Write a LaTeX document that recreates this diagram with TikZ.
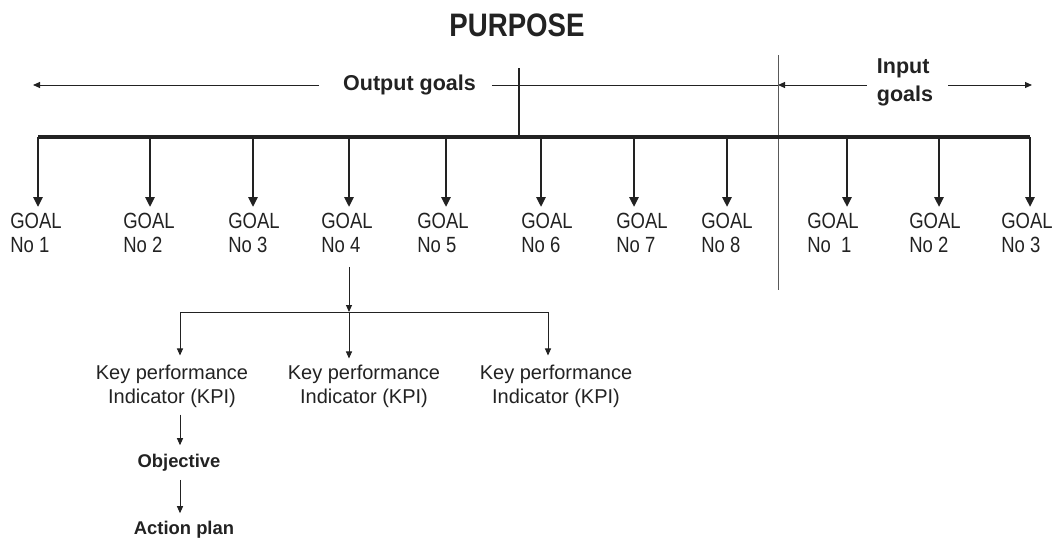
\documentclass[tikz,border=0pt]{standalone}
\usepackage{fontspec}
\setmainfont{Liberation Sans}
\newfontfamily\tallsans[FakeStretch=0.84]{Liberation Sans}
\newfontfamily\purfont[FakeStretch=0.85]{Liberation Sans}
\usetikzlibrary{arrows.meta,calc}
\definecolor{ink}{HTML}{222222}
\begin{document}
\begin{tikzpicture}[x=1pt,y=-1pt,
  goal/.style={inner sep=0pt, align=left, text=ink, font=\tallsans\fontsize{22}{24}\selectfont},
  kpi/.style={inner sep=0pt, align=center, text=ink, font=\fontsize{20}{24}\selectfont},
  boldtxt/.style={inner sep=0pt, text=ink, font=\fontsize{18.4}{22}\selectfont\bfseries},
  headtxt/.style={inner sep=0pt, align=left, text=ink, font=\fontsize{21.5}{28}\selectfont\bfseries},
  bus/.style={draw=ink, line width=3.5pt},
  drop/.style={draw=ink, line width=2.5pt, -{Triangle[length=10pt,width=9pt]}, shorten >=6pt},
  tick/.style={draw=ink, line width=2.5pt},
  thinline/.style={draw=ink, line width=1pt},
  thinarrow/.style={draw=ink, line width=1pt, -{Triangle[length=7pt,width=6pt]}},
  sepline/.style={draw=ink!75, line width=1pt}]
\useasboundingbox (0,0) rectangle (1054,538);

% title
\node[inner sep=0pt, text=ink, font=\purfont\fontsize{32.5}{33}\selectfont\bfseries] (pur) at (517,25.5) {PURPOSE};

% top labels and arrows
\node[headtxt] (out) at (409.5,85) {Output goals};
\node[headtxt] (inp) at (905,82.5) {Input\\goals};
\coordinate (lend) at (33,85);
\coordinate (sepm) at (778,85);
\coordinate (rend) at (1032,85);
\draw[thinarrow, shorten <=24pt] (out.west) -- (lend);
\draw[thinline, shorten <=16pt] (out.east) -- (sepm);
\draw[thinarrow, shorten <=10pt] (inp.west |- sepm) -- (sepm);
\draw[thinarrow, shorten <=15pt] (inp.east |- sepm) -- (rend);

% separator
\coordinate (st) at (778,55);
\coordinate (sb) at (778,290);
\draw[sepline] (st) -- (sb);

% goals
\foreach \n/\d/\c/\t in {1/38/36/No 1, 2/150/149/No 2, 3/253/254/No 3, 4/349/347/No 4,
  5/446/443/No 5, 6/541/547/No 6, 7/634/642/No 7, 8/727/727/No 8,
  9/847/833/No~~1, 10/939/935/No 2, 11/1030/1027/No 3} {
  \coordinate (b\n) at (\d,137);
  \node[goal] (g\n) at (\c,233) {GOAL\\\t};
}
\draw[bus] (b1) -- (b11);
\foreach \n in {1,...,11} {
  \draw[drop] (b\n) -- (b\n |- g\n.north);
}

% purpose tick
\coordinate (tt) at (519,68);
\draw[tick] (tt) -- (tt |- b1);

% KPIs
\node[kpi] (k1) at (172,386) {Key performance\\Indicator (KPI)};
\node[kpi] (k2) at (364,386) {Key performance\\Indicator (KPI)};
\node[kpi] (k3) at (556,386) {Key performance\\Indicator (KPI)};
\coordinate (br) at (349,312);
\coordinate (brl) at (180,312);
\coordinate (brr) at (548,312);
\draw[thinarrow, shorten <=14pt] (br |- g4.south) -- (br);
\draw[thinline] (brl) -- (brr);
\draw[thinarrow, shorten >=9pt] (brl) -- (brl |- k1.north);
\draw[thinarrow, shorten >=6pt] (br) -- (br |- k2.north);
\draw[thinarrow, shorten >=9pt] (brr) -- (brr |- k3.north);

% objective and action plan
\node[boldtxt] (obj) at (179,463) {Objective};
\node[boldtxt] (act) at (184,530) {Action plan};
\draw[thinarrow, shorten <=7pt, shorten >=9pt] (brl |- k1.south) -- (brl |- obj.north);
\draw[thinarrow, shorten <=8pt, shorten >=8pt] (brl |- obj.south) -- (brl |- act.north);
\end{tikzpicture}
\end{document}
